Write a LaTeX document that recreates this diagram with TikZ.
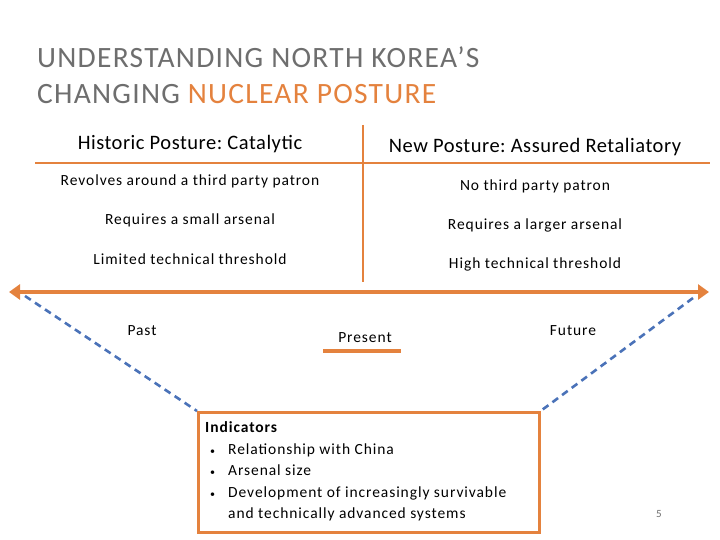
\documentclass[tikz,border=0pt]{standalone}
\usepackage{fontspec}
\setmainfont{Carlito}
\newfontfamily\bodyfont[LetterSpace=6]{Carlito}
\newfontfamily\hdrfont[LetterSpace=2.5]{Carlito}
\newfontfamily\titlefont[LetterSpace=4.3]{Carlito}
\usetikzlibrary{arrows.meta}
\definecolor{posorange}{HTML}{E4823E}
\definecolor{posblue}{HTML}{4A72B8}
\definecolor{titlegray}{HTML}{6E6E6E}
\newcommand{\indbullet}{\makebox[23pt][l]{\hspace{5pt}{\fontsize{10}{10}\selectfont\textbullet}}}
\begin{document}
\frenchspacing
\begin{tikzpicture}[x=1pt,y=-1pt,
  hdr/.style={font=\hdrfont\fontsize{20.5}{22}\selectfont},
  row/.style={font=\bodyfont\fontsize{15.5}{17}\selectfont},
  lbl/.style={font=\bodyfont\fontsize{15.5}{17}\selectfont},
  rule/.style={posorange,line width=2.2pt},
  trail/.style={posblue,line width=2.6pt,dash pattern=on 7pt off 5pt}]
\useasboundingbox (0,0) rectangle (720,540);

% title
\node[anchor=base west,align=left,text=titlegray,inner sep=0pt,
  font=\titlefont\fontsize{29.5}{36}\selectfont] (title) at (37,104)
  {UNDERSTANDING NORTH KOREA’S\\CHANGING \textcolor{posorange}{NUCLEAR POSTURE}};

% the two postures
\node[hdr] (hist) at (190,144) {Historic Posture: Catalytic};
\node[hdr] (new) at (535,147) {New Posture: Assured Retaliatory};
\draw[rule] (35,163) -- (710,163);
\draw[rule] (363,125) -- (363,282);

\foreach \t [count=\i] in {Revolves around a third party patron,
    Requires a small arsenal,Limited technical threshold}
  \node[row] (h\i) at (190,142+39*\i) {\t};
\foreach \t [count=\i] in {No third party patron,
    Requires a larger arsenal,High technical threshold}
  \node[row] (n\i) at (535,147+39*\i) {\t};

% time line
\coordinate (tl) at (9,292);
\coordinate (tr) at (709,292);
\draw[posorange,line width=4pt,{Triangle[length=11pt,width=15pt]}-{Triangle[length=11pt,width=15pt]}] (tl) -- (tr);

\node[lbl] (past) at (142,331) {Past};
\node[lbl] (present) at (365,338) {Present};
\node[lbl] (future) at (573,331) {Future};
\draw[posorange,line width=4pt] (323,351) -- (401,351);

% indicators
\node[draw=posorange,line width=2.6pt,anchor=north west,minimum width=341pt,
  minimum height=120pt,inner sep=0pt] (ind) at (197,411) {};
\node[anchor=north west,align=left,font=\bodyfont\fontsize{15.5}{21.5}\selectfont,
  inner sep=0pt] (indtxt) at (205,421.5)
  {\textbf{Indicators}\\
   \indbullet Relationship with China\\
   \indbullet Arsenal size\\
   \indbullet Development of increasingly survivable\\
   \hspace*{23pt}and technically advanced systems};

\draw[trail] (25,296) -- (ind.north west);
\draw[trail] (693,298) -- (ind.north east);

\node[text=titlegray,font=\fontsize{11}{12}\selectfont] (page) at (659,514) {5};
\end{tikzpicture}
\end{document}
